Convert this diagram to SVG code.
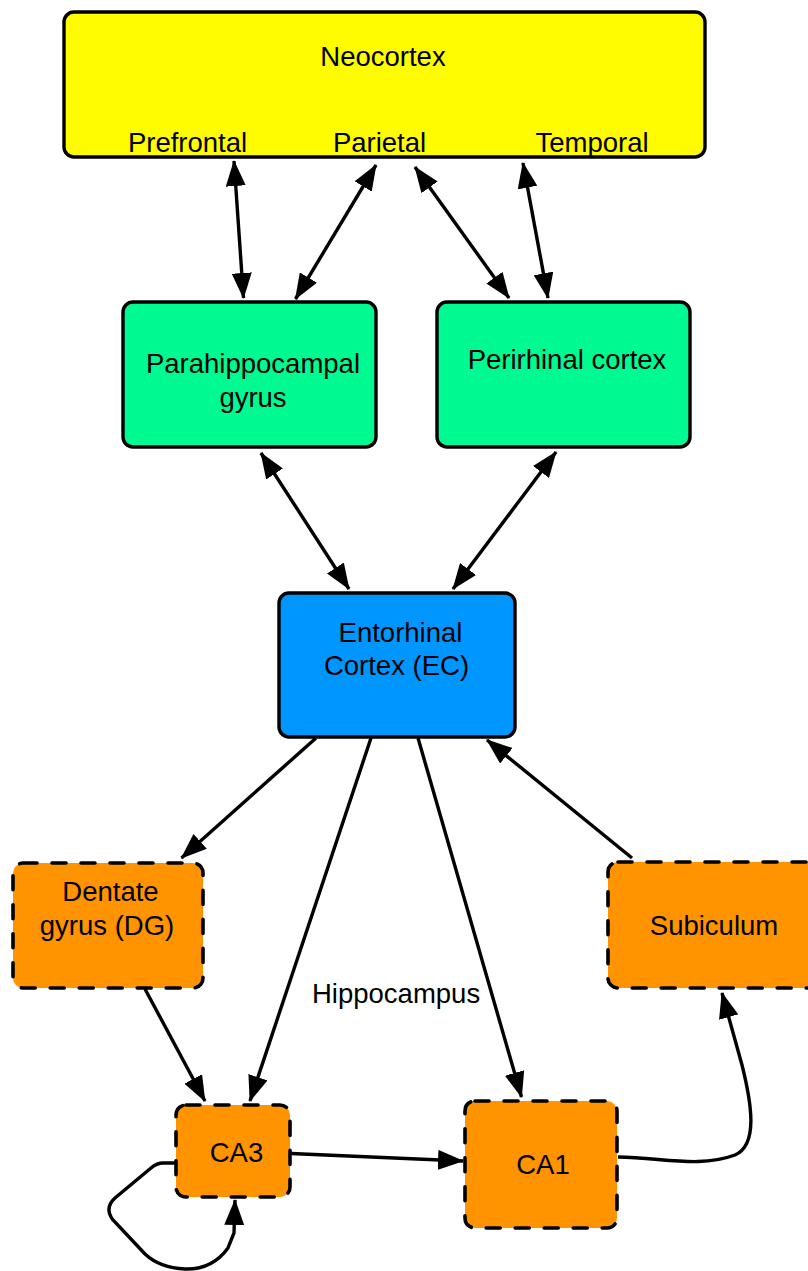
<svg xmlns="http://www.w3.org/2000/svg" width="808" height="1271" viewBox="0 0 808 1271">
<style>
.box{stroke:#000;stroke-width:3.4}
.dash{stroke-width:3.6;stroke-dasharray:14 15;stroke-linecap:round}
.t{font-family:"Liberation Sans",Arial,Helvetica,sans-serif;font-size:27.5px;fill:#000}
.c{text-anchor:middle}
.ln{fill:none;stroke:#000;stroke-width:3.4}
</style>
<defs>
<marker id="ah" viewBox="0 0 26 20" refX="25" refY="10" markerWidth="26" markerHeight="20" markerUnits="userSpaceOnUse" orient="auto-start-reverse">
<path d="M0,0 L26,10 L0,20 z" fill="#000"/>
</marker>
</defs>
<rect width="808" height="1271" fill="#fff"/>
<g id="neocortex">
<rect class="box" x="64" y="12" width="641" height="145" rx="10" fill="#FFFB00"/>
<text class="t c" x="383" y="66">Neocortex</text>
<text class="t c" x="187.5" y="152">Prefrontal</text>
<text class="t c" x="379.5" y="152">Parietal</text>
<text class="t c" x="592" y="152">Temporal</text>
</g>
<g id="parahippocampal">
<rect class="box" x="123" y="302" width="253" height="145" rx="10" fill="#00FA92"/>
<text class="t c" x="253" y="373">Parahippocampal</text>
<text class="t c" x="253" y="407">gyrus</text>
</g>
<g id="perirhinal">
<rect class="box" x="437" y="302" width="253" height="145" rx="10" fill="#00FA92"/>
<text class="t c" x="567" y="369">Perirhinal cortex</text>
</g>
<g id="entorhinal">
<rect class="box" x="279" y="593" width="236" height="144" rx="10" fill="#0096FF"/>
<text class="t c" x="400.5" y="642">Entorhinal</text>
<text class="t c" x="396.5" y="675">Cortex (EC)</text>
</g>
<g id="dentate">
<rect class="box dash" x="13" y="863" width="190" height="125" rx="10" fill="#FF9300"/>
<text class="t c" x="110.5" y="901">Dentate</text>
<text class="t c" x="107" y="935">gyrus (DG)</text>
</g>
<g id="subiculum">
<rect class="box dash" x="608" y="862" width="212" height="126" rx="10" fill="#FF9300"/>
<text class="t c" x="714" y="935">Subiculum</text>
</g>
<g id="ca3">
<rect class="box dash" x="176" y="1105" width="114" height="92" rx="10" fill="#FF9300"/>
<text class="t c" x="236.5" y="1162">CA3</text>
</g>
<g id="ca1">
<rect class="box dash" x="465" y="1101" width="152" height="127" rx="10" fill="#FF9300"/>
<text class="t c" x="543" y="1174">CA1</text>
</g>
<g id="hippocampus-label">
<text class="t" x="312" y="1003">Hippocampus</text>
</g>
<g id="connectors">
<line class="ln" x1="234" y1="161" x2="243.5" y2="298" marker-start="url(#ah)" marker-end="url(#ah)"/>
<line class="ln" x1="376" y1="165" x2="295.5" y2="299" marker-start="url(#ah)" marker-end="url(#ah)"/>
<line class="ln" x1="415" y1="167" x2="509" y2="298" marker-start="url(#ah)" marker-end="url(#ah)"/>
<line class="ln" x1="523" y1="163" x2="548" y2="298" marker-start="url(#ah)" marker-end="url(#ah)"/>
<line class="ln" x1="261" y1="453" x2="349" y2="589" marker-start="url(#ah)" marker-end="url(#ah)"/>
<line class="ln" x1="556" y1="452" x2="453" y2="589" marker-start="url(#ah)" marker-end="url(#ah)"/>
<line class="ln" x1="316" y1="738" x2="181.5" y2="858" marker-end="url(#ah)"/>
<line class="ln" x1="371" y1="738" x2="250" y2="1101" marker-end="url(#ah)"/>
<line class="ln" x1="418" y1="738" x2="521.5" y2="1097" marker-end="url(#ah)"/>
<line class="ln" x1="632" y1="858" x2="487" y2="740" marker-end="url(#ah)"/>
<line class="ln" x1="145" y1="989" x2="205" y2="1101" marker-end="url(#ah)"/>
<line class="ln" x1="291" y1="1153.5" x2="463" y2="1161" marker-end="url(#ah)"/>
<path class="ln" d="M618,1157 C665,1158 700,1168 735,1155 C758,1145 752,1105 742,1065 L722,993" marker-end="url(#ah)"/>
<path class="ln" d="M175,1163 L163,1163 Q157,1163 151,1168 L115,1198 Q104,1208 113,1220 L145,1254 Q160,1268 185,1269 Q212,1270 228,1248 L234,1233 L235,1200" marker-end="url(#ah)"/>
</g>
</svg>
